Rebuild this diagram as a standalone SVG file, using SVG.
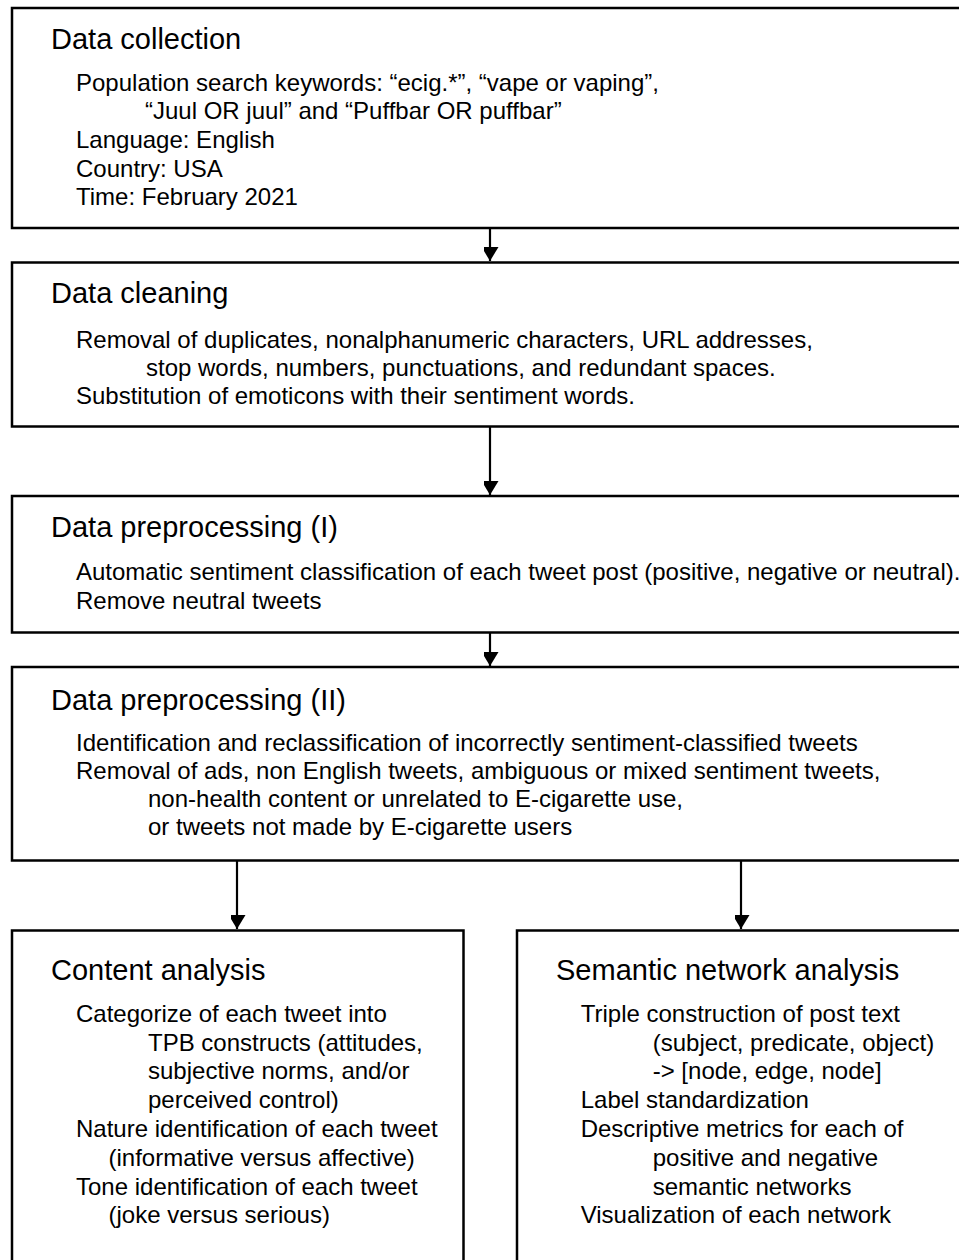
<svg xmlns="http://www.w3.org/2000/svg" width="959" height="1260" viewBox="0 0 959 1260">
<style>
.box{fill:#fff;stroke:#000;stroke-width:2.5}
.t{font-family:"Liberation Sans",Arial,sans-serif;font-size:29px;fill:#000}
.b{font-family:"Liberation Sans",Arial,sans-serif;font-size:24px;fill:#000}
.c{stroke:#000;stroke-width:2.2;fill:none}
</style>
<defs>
<marker id="ah" markerUnits="userSpaceOnUse" markerWidth="18" markerHeight="15" refX="14" refY="8.5" orient="auto">
<path d="M0,0 L14,8.5 L0,17 Z" fill="#000"/>
</marker>
</defs>
<rect width="959" height="1260" fill="#fff"/>
<g id="connectors">
<line class="c" x1="490" y1="228" x2="490" y2="261" marker-end="url(#ah)"/>
<line class="c" x1="490" y1="427" x2="490" y2="495" marker-end="url(#ah)"/>
<line class="c" x1="490" y1="633" x2="490" y2="666" marker-end="url(#ah)"/>
<line class="c" x1="237" y1="861" x2="237" y2="929" marker-end="url(#ah)"/>
<line class="c" x1="741" y1="861" x2="741" y2="929" marker-end="url(#ah)"/>
</g>
<g id="data-collection">
<rect class="box" x="12" y="8" width="960" height="220"/>
<text class="t" x="51" y="49">Data collection</text>
<text class="b" x="76" y="90.5">Population search keywords: “ecig.*”, “vape or vaping”,</text>
<text class="b" x="145" y="119.2">“Juul OR juul” and “Puffbar OR puffbar”</text>
<text class="b" x="76" y="147.9">Language: English</text>
<text class="b" x="76" y="176.6">Country: USA</text>
<text class="b" x="76" y="205.3">Time: February 2021</text>
</g>
<g id="data-cleaning">
<rect class="box" x="12" y="262.5" width="960" height="164"/>
<text class="t" x="51" y="303.3">Data cleaning</text>
<text class="b" x="76" y="347.7">Removal of duplicates, nonalphanumeric characters, URL addresses,</text>
<text class="b" x="146" y="376">stop words, numbers, punctuations, and redundant spaces.</text>
<text class="b" x="76" y="404.3">Substitution of emoticons with their sentiment words.</text>
</g>
<g id="data-preprocessing-1">
<rect class="box" x="12" y="496" width="960" height="136.5"/>
<text class="t" x="51" y="537">Data preprocessing (I)</text>
<text class="b" x="76" y="580">Automatic sentiment classification of each tweet post (positive, negative or neutral).</text>
<text class="b" x="76" y="608.6">Remove neutral tweets</text>
</g>
<g id="data-preprocessing-2">
<rect class="box" x="12" y="667" width="960" height="193.5"/>
<text class="t" x="51" y="710">Data preprocessing (II)</text>
<text class="b" x="76" y="750.7">Identification and reclassification of incorrectly sentiment-classified tweets</text>
<text class="b" x="76" y="779">Removal of ads, non English tweets, ambiguous or mixed sentiment tweets,</text>
<text class="b" x="148" y="806.7">non-health content or unrelated to E-cigarette use,</text>
<text class="b" x="148" y="835">or tweets not made by E-cigarette users</text>
</g>
<g id="content-analysis">
<rect class="box" x="12" y="930.5" width="451.5" height="340"/>
<text class="t" x="51" y="980">Content analysis</text>
<text class="b" x="76" y="1021.7">Categorize of each tweet into</text>
<text class="b" x="148" y="1050.5">TPB constructs (attitudes,</text>
<text class="b" x="148" y="1079.3">subjective norms, and/or</text>
<text class="b" x="148" y="1108">perceived control)</text>
<text class="b" x="76" y="1137">Nature identification of each tweet</text>
<text class="b" x="108.5" y="1165.7">(informative versus affective)</text>
<text class="b" x="76" y="1194.5">Tone identification of each tweet</text>
<text class="b" x="108.5" y="1223">(joke versus serious)</text>
</g>
<g id="semantic-network-analysis">
<rect class="box" x="517" y="930.5" width="460" height="340"/>
<text class="t" x="556" y="980">Semantic network analysis</text>
<text class="b" x="580.7" y="1021.7">Triple construction of post text</text>
<text class="b" x="652.7" y="1050.5">(subject, predicate, object)</text>
<text class="b" x="652.7" y="1079.3">-&gt; [node, edge, node]</text>
<text class="b" x="580.7" y="1108">Label standardization</text>
<text class="b" x="580.7" y="1137">Descriptive metrics for each of</text>
<text class="b" x="652.7" y="1165.7">positive and negative</text>
<text class="b" x="652.7" y="1194.5">semantic networks</text>
<text class="b" x="580.7" y="1223">Visualization of each network</text>
</g>
</svg>
